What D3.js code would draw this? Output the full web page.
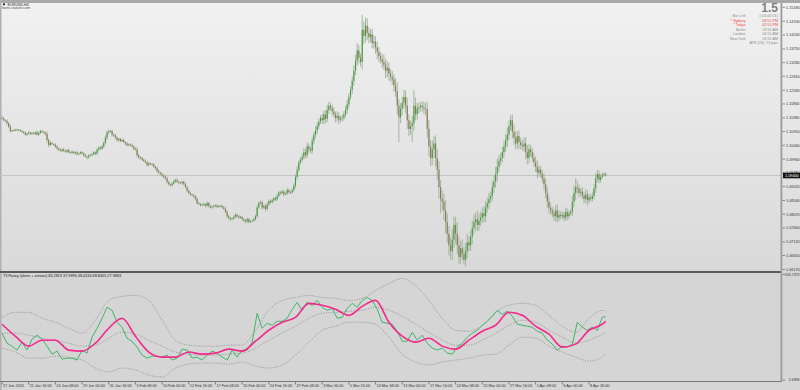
<!DOCTYPE html>
<html lang="en">
<head>
<meta charset="UTF-8">
<title>EURUSD H4</title>
<script src="https://cdn.jsdelivr.net/npm/d3@7"></script>
<style>
  body { margin: 0; background: #fff; }
  svg { display: block; font-family: "Liberation Sans", Arial, sans-serif; }
</style>
</head>
<body>
<svg id="chart" width="800" height="390"></svg>
<script>
// H4 closes, 6 bars per trading day, 17 Jan 2020 .. 10 Apr 2020
const closes = [
  1.1136,1.1130,1.1128,1.1120,1.1108,1.1092, 1.1094,1.1097,1.1095,1.1098,1.1096,1.1093,
  1.1090,1.1087,1.1080,1.1084,1.1088,1.1083, 1.1086,1.1084,1.1089,1.1080,1.1086,1.1093,
  1.1090,1.1087,1.1083,1.1062,1.1045,1.1052, 1.1048,1.1046,1.1040,1.1033,1.1028,1.1025,
  1.1030,1.1024,1.1022,1.1028,1.1020,1.1018, 1.1022,1.1017,1.1020,1.1013,1.1015,1.1020,
  1.1016,1.1010,1.1005,1.1002,1.1008,1.1010, 1.1013,1.1020,1.1015,1.1028,1.1036,1.1032,
  1.1040,1.1052,1.1070,1.1088,1.1092,1.1093, 1.1080,1.1078,1.1070,1.1062,1.1066,1.1058,
  1.1062,1.1055,1.1050,1.1044,1.1047,1.1045, 1.1040,1.1032,1.1030,1.1010,1.1002,1.1000,
  1.0995,1.0990,1.0985,1.0976,1.0982,1.0980, 1.0978,1.0970,1.0965,1.0955,1.0950,1.0946,
  1.0940,1.0935,1.0930,1.0918,1.0910,1.0906, 1.0912,1.0920,1.0925,1.0918,1.0916,1.0914,
  1.0918,1.0910,1.0900,1.0888,1.0880,1.0875, 1.0872,1.0868,1.0860,1.0845,1.0842,1.0838,
  1.0840,1.0842,1.0836,1.0845,1.0835,1.0830, 1.0833,1.0836,1.0838,1.0832,1.0835,1.0836,
  1.0830,1.0825,1.0815,1.0800,1.0794,1.0790, 1.0792,1.0798,1.0805,1.0800,1.0795,1.0798,
  1.0790,1.0785,1.0782,1.0790,1.0780,1.0783, 1.0785,1.0790,1.0800,1.0830,1.0845,1.0848,
  1.0830,1.0835,1.0825,1.0840,1.0852,1.0848, 1.0855,1.0862,1.0858,1.0870,1.0882,1.0880,
  1.0885,1.0875,1.0878,1.0890,1.0883,1.0882, 1.0890,1.0905,1.0935,1.0960,1.0985,1.0995,
  1.1005,1.1020,1.1010,1.1040,1.1030,1.1025, 1.1060,1.1080,1.1095,1.1110,1.1125,1.1138,
  1.1130,1.1150,1.1135,1.1165,1.1180,1.1172, 1.1160,1.1150,1.1138,1.1145,1.1132,1.1136,
  1.1140,1.1150,1.1165,1.1185,1.1210,1.1235, 1.1265,1.1300,1.1335,1.1370,1.1345,1.1330,
  1.1440,1.1420,1.1455,1.1430,1.1415,1.1425, 1.1395,1.1400,1.1380,1.1365,1.1350,1.1340,
  1.1330,1.1320,1.1300,1.1310,1.1290,1.1280, 1.1270,1.1250,1.1230,1.1180,1.1140,1.1170,
  1.1190,1.1210,1.1180,1.1130,1.1100,1.1110, 1.1120,1.1180,1.1150,1.1170,1.1175,1.1180,
  1.1175,1.1170,1.1168,1.1100,1.1040,1.1000, 1.1030,1.1050,1.1000,1.0960,1.0900,1.0860,
  1.0850,1.0820,1.0780,1.0740,1.0700,1.0680, 1.0720,1.0770,1.0740,1.0700,1.0660,1.0690,
  1.0670,1.0650,1.0680,1.0710,1.0700,1.0730, 1.0760,1.0780,1.0790,1.0770,1.0785,1.0795,
  1.0810,1.0800,1.0830,1.0845,1.0860,1.0870, 1.0900,1.0920,1.0945,1.0970,1.0990,1.1000,
  1.1020,1.1040,1.1060,1.1080,1.1110,1.1130, 1.1090,1.1070,1.1050,1.1075,1.1055,1.1045,
  1.1040,1.1050,1.1020,1.1000,1.1030,1.1020, 1.1000,1.0985,1.0970,1.0950,1.0960,1.0945,
  1.0930,1.0910,1.0880,1.0850,1.0830,1.0820, 1.0810,1.0800,1.0820,1.0795,1.0805,1.0800,
  1.0805,1.0795,1.0815,1.0800,1.0810,1.0815, 1.0850,1.0880,1.0900,1.0895,1.0880,1.0885,
  1.0870,1.0860,1.0875,1.0855,1.0865,1.0860, 1.0870,1.0895,1.0930,1.0945,1.0925,1.0935,
  1.0942,1.0945,1.0940
];
const firstOpen = 1.1138;
// upper / lower shadow beyond the body, in pips
const wickUp = [
  6,4,3,5,4,8, 3,2,4,3,2,3, 4,3,5,2,4,3, 3,4,2,6,3,4, 3,4,5,8,6,7, 4,3,5,4,3,6,
  3,5,4,2,4,3, 4,3,2,5,3,4, 3,4,5,3,6,4, 4,5,3,6,4,5, 6,5,8,7,5,4, 5,4,6,5,4,3,
  4,5,3,6,4,3, 5,4,6,7,5,4, 4,3,5,6,4,3, 3,5,4,6,5,3, 4,3,5,6,4,3, 5,6,4,5,3,4,
  4,5,6,5,4,3, 3,4,5,6,4,3, 4,5,3,6,5,4, 3,4,2,3,4,3, 4,5,6,5,4,3, 3,5,6,4,5,3,
  4,3,5,6,4,5, 3,5,6,8,7,5, 6,5,7,8,6,5, 5,6,4,7,6,5, 6,5,4,7,5,4, 6,8,10,12,9,8,
  10,14,12,13,10,8, 12,10,14,12,11,9, 14,12,15,18,13,10, 12,14,10,15,12,9,
  10,12,14,15,13,12, 15,18,20,25,18,14, 52,30,28,25,20,18, 20,22,18,20,16,15,
  18,25,20,22,18,15, 20,18,25,30,22,18, 20,25,22,28,20,18, 25,53,28,20,15,12,
  15,18,20,25,30,22, 30,25,28,32,30,25, 30,28,35,30,25,28, 35,30,28,40,30,25,
  30,25,28,30,22,20, 25,28,22,30,25,20, 20,25,22,18,20,15, 20,22,25,28,20,18,
  18,20,22,25,20,17, 20,25,22,18,20,15, 18,20,22,25,18,15, 15,18,20,22,15,12,
  15,18,20,22,18,15, 12,15,18,20,15,12, 12,10,15,12,10,8, 20,25,30,22,15,12,
  15,12,18,14,12,10, 12,15,18,14,12,10, 8,6,5
];
const wickDn = [
  4,5,3,6,5,4, 2,3,3,2,4,3, 3,4,2,5,3,4, 4,3,5,2,4,3, 4,3,6,9,8,5, 3,4,6,5,4,3,
  5,3,4,6,3,4, 3,4,5,3,4,2, 4,5,3,6,4,3, 5,3,6,4,5,3, 4,6,5,8,6,5, 6,5,4,6,5,4,
  3,4,6,5,4,5, 4,6,5,8,6,5, 5,4,3,6,4,5, 4,3,5,4,6,5, 3,5,4,6,5,4, 4,3,5,4,6,3,
  5,4,3,6,5,4, 4,5,6,5,4,5, 3,4,5,4,6,3, 4,3,5,4,3,4, 3,4,5,7,6,5, 4,3,4,6,5,4,
  5,4,6,5,4,3, 4,3,5,6,5,4, 7,5,8,6,5,6, 4,5,6,5,4,6, 5,6,4,5,6,5, 5,6,8,9,8,7,
  8,10,12,10,11,9, 10,12,11,13,10,8, 12,14,16,12,14,10, 14,12,15,13,16,10,
  10,12,11,13,12,10, 14,16,15,18,20,15, 25,28,22,25,20,18, 18,20,22,25,20,16,
  20,18,25,22,24,18, 18,22,20,30,85,20, 22,20,25,30,25,20, 55,25,20,18,16,15,
  15,18,22,30,35,28, 25,30,28,35,40,50, 30,35,40,30,35,28, 30,28,35,30,23,25,
  20,14,22,25,20,18, 25,20,28,22,20,18, 18,22,20,18,20,15, 18,20,22,25,18,15,
  15,20,18,22,18,15, 22,25,20,18,25,15, 15,18,25,22,18,15, 12,15,18,20,15,12,
  15,20,18,22,20,15, 12,15,18,16,12,10, 10,12,10,14,10,8, 15,20,25,18,15,12,
  12,15,14,18,12,10, 10,12,15,14,12,10, 6,5,4
];
const lastPrice = 1.09400;

const priceTicks = ["1.15180","1.14700","1.14230","1.13750","1.13280","1.12810","1.12330",
  "1.11860","1.11380","1.10910","1.10440","1.09960","1.09490","1.09020","1.08540",
  "1.08070","1.07600","1.07120","1.06650","1.06170"];
const timeTicks = ["17 Jan 2020","21 Jan 16:00","24 Jan 08:00","29 Jan 00:00","31 Jan 16:00",
  "5 Feb 08:00","10 Feb 00:00","12 Feb 16:00","17 Feb 08:00","20 Feb 00:00","24 Feb 16:00",
  "27 Feb 08:00","3 Mar 00:00","5 Mar 16:00","10 Mar 08:00","13 Mar 00:00","17 Mar 16:00",
  "20 Mar 08:00","25 Mar 00:00","27 Mar 16:00","1 Apr 08:00","6 Apr 00:00","8 Apr 16:00"];
const barsPerTick = 16;

// indicator: green line every 3 bars
const fozzy = [
  47.5,37.9,35.1,31.3,38.9,31.3,41.7,45.6,41.7,35.1,27.4,30.3,22.7,23.6,23.6,21.7,31.3,28.4,
  43.7,52.2,61.8,72.3,69.4,58.0,53.2,42.7,39.8,34.1,26.5,23.6,25.5,25.5,24.6,26.5,21.7,23.6,
  32.2,31.3,23.6,24.6,21.7,26.5,30.3,28.4,24.6,21.7,31.3,24.6,31.3,31.3,38.9,66.6,52.2,57.0,
  55.1,58.9,58.9,61.8,70.4,77.0,69.4,77.0,74.2,78.9,72.3,69.4,71.3,61.8,62.7,71.3,76.1,72.3,
  78.9,81.8,78.9,70.4,58.0,57.0,56.1,49.4,39.8,39.8,48.4,40.8,45.6,37.9,33.2,31.3,33.2,28.4,
  27.4,34.1,37.9,43.7,47.5,50.3,55.1,58.9,63.7,69.4,65.6,68.5,63.7,56.1,55.1,54.2,53.2,49.4,
  47.5,40.8,37.0,31.3,35.1,34.1,37.0,58.0,53.2,50.3,53.2,50.3,62.7,63.3
];
const fozzyStep = 3;
// T3 and bands every 8 bars, last point on the final bar
const t3 = [
  56.1,44.6,35.1,40.8,40.8,31.3,30.3,37.9,52.2,61.8,44.6,29.4,24.6,24.6,29.4,27.4,28.4,32.2,
  30.3,39.8,50.3,58.0,62.7,76.1,74.2,70.4,64.6,73.2,78.9,58.0,44.6,38.9,42.7,35.1,32.2,40.8,
  49.4,55.1,67.5,64.6,54.2,46.5,34.1,37.0,50.3,56.1,58.9
];
const bandUp = [
  62.7,67.5,67.5,61.8,58.0,52.2,47.5,59.9,78.9,82.8,83.7,78.9,59.9,40.8,36.0,35.1,35.1,36.0,
  36.0,50.3,69.4,78.9,81.8,83.7,81.8,80.9,78.9,80.9,88.5,95.2,99.9,93.2,78.9,61.8,50.3,49.4,
  55.1,67.5,74.2,76.1,74.2,64.6,54.2,48.4,61.8,69.4,68.8
];
const bandMid = [
  47.5,47.5,45.6,42.7,40.8,37.9,35.1,36.0,42.7,48.4,46.5,40.8,35.1,29.4,27.4,26.5,26.5,27.4,
  28.4,33.2,40.8,47.5,54.2,61.8,66.6,67.5,68.5,69.4,72.3,69.4,63.7,56.1,48.4,40.8,36.0,36.0,
  40.8,47.5,55.1,59.9,58.0,50.3,43.7,37.9,40.8,46.5,48.4
];
const bandLo = [
  33.2,29.4,23.6,23.6,25.5,24.6,21.7,14.1,10.3,14.1,12.2,7.4,5.5,14.1,17.9,18.9,18.9,17.9,
  19.8,16.0,14.1,17.0,26.5,38.9,50.3,54.2,58.0,58.0,56.1,43.7,27.4,19.8,17.0,19.8,21.7,23.6,
  26.5,27.4,36.0,43.7,42.7,35.1,29.4,24.6,20.8,24.6,28.0
];
const bandStep = 8;
const indMin = 2.6398, indMax = 103.7373;
const indTitle = "T3 Fozzy (alerts + arrows) 63.2813 37.9896 48.4134 68.8405 27.9863";

const sessions = [
  ["Bar Left", "[ 03:04:13 ]", "#8a8a8a"],
  ["* Sydney", "03:55 PM", "#ee3b3b"],
  ["* Tokyo", "02:55 PM", "#ee3b3b"],
  ["Berlin", "07:55 AM", "#8a8a8a"],
  ["London", "06:55 AM", "#8a8a8a"],
  ["New York", "01:55 AM", "#8a8a8a"]
];

const W = 800, H = 390;
const axisX = 782;
const mainTop = 3, mainBottom = 271, indTop = 273, indBottom = 381;
const svg = d3.select("#chart");
const fs = 3.8;

const defs = svg.append("defs");
const grad = defs.append("linearGradient").attr("id", "bgMain").attr("x1", 0).attr("x2", 0).attr("y1", 0).attr("y2", 1);
grad.append("stop").attr("offset", "0%").attr("stop-color", "#f1f1f1");
grad.append("stop").attr("offset", "100%").attr("stop-color", "#d9d9d9");
defs.append("clipPath").attr("id", "clipMain").append("rect")
  .attr("x", 0).attr("y", mainTop).attr("width", axisX).attr("height", mainBottom - mainTop);
defs.append("clipPath").attr("id", "clipInd").append("rect")
  .attr("x", 0).attr("y", indTop).attr("width", axisX).attr("height", indBottom - indTop);

// backgrounds
svg.append("rect").attr("width", W).attr("height", H).attr("fill", "#d6d6d6");
svg.append("rect").attr("x", 0).attr("y", mainTop).attr("width", W).attr("height", mainBottom - mainTop).attr("fill", "url(#bgMain)");
svg.append("rect").attr("x", 0).attr("y", indTop).attr("width", W).attr("height", indBottom - indTop).attr("fill", "#d5d5d5");
svg.append("rect").attr("x", 0).attr("y", 0).attr("width", W).attr("height", mainTop).attr("fill", "#a9a9a9");
svg.append("rect").attr("x", 0).attr("y", 0).attr("width", 1.5).attr("height", H).attr("fill", "#b0b0b0");

// scales
const x = d3.scaleLinear().domain([0, barsPerTick * (timeTicks.length - 1)]).range([2, 589]);
const y = d3.scaleLinear().domain([1.0617, 1.1518]).range([269.5, 7.3]);
const yi = d3.scaleLinear().domain([indMin, indMax]).range([380, 274.5]);

// price line
svg.append("line").attr("x1", 0).attr("x2", axisX).attr("y1", y(lastPrice)).attr("y2", y(lastPrice))
  .attr("stroke", "#c4c4c4").attr("stroke-width", 1);

// candles
const candles = closes.map((c, i) => {
  const o = i === 0 ? firstOpen : closes[i - 1];
  return { i, o, c, h: Math.max(o, c) + wickUp[i] / 10000, l: Math.min(o, c) - wickDn[i] / 10000 };
});
const gC = svg.append("g").attr("clip-path", "url(#clipMain)");
gC.selectAll("line.wick").data(candles).enter().append("line")
  .attr("class", "wick")
  .attr("x1", d => x(d.i)).attr("x2", d => x(d.i))
  .attr("y1", d => y(d.h)).attr("y2", d => y(d.l))
  .attr("stroke", "#a3b69e").attr("stroke-width", 1);
gC.selectAll("rect.body").data(candles).enter().append("rect")
  .attr("class", "body")
  .attr("x", d => x(d.i) - 0.55).attr("width", 1.1)
  .attr("y", d => y(Math.max(d.o, d.c)))
  .attr("height", d => Math.max(0.8, Math.abs(y(d.o) - y(d.c))))
  .attr("fill", d => d.c >= d.o ? "#3f9a3c" : "#8d7452");

// price axis
const gP = svg.append("g");
gP.selectAll("line").data(priceTicks).enter().append("line")
  .attr("x1", axisX + 0.5).attr("x2", axisX + 3)
  .attr("y1", d => y(+d)).attr("y2", d => y(+d))
  .attr("stroke", "#444").attr("stroke-width", 0.6);
gP.selectAll("text").data(priceTicks).enter().append("text")
  .attr("x", axisX + 4).attr("y", d => y(+d)).attr("dy", "0.35em")
  .attr("font-size", fs).attr("fill", "#333").text(d => d);

// current price box
svg.append("rect").attr("x", axisX + 1).attr("y", y(lastPrice) - 2.8).attr("width", 17).attr("height", 5.6).attr("fill", "#111");
svg.append("text").attr("x", axisX + 3).attr("y", y(lastPrice)).attr("dy", "0.35em")
  .attr("font-size", fs).attr("fill", "#fff").text(lastPrice.toFixed(5));

// indicator pane
const gI = svg.append("g").attr("clip-path", "url(#clipInd)");
const stepPts = (arr, step) => arr.map((v, k) => ({ bar: Math.min(k * step, closes.length - 1), v }));
const smooth = d3.line().x(d => x(d.bar)).y(d => yi(d.v)).curve(d3.curveMonotoneX);
[bandUp, bandMid, bandLo].forEach(b => {
  gI.append("path").attr("d", smooth(stepPts(b, bandStep)))
    .attr("fill", "none").attr("stroke", "#8e8e8e").attr("stroke-width", 0.8)
    .attr("stroke-dasharray", "1.2,1.3");
});
gI.append("path").attr("d", d3.line().x(d => x(d.bar)).y(d => yi(d.v))(stepPts(fozzy, fozzyStep)))
  .attr("fill", "none").attr("stroke", "#3fb568").attr("stroke-width", 1).attr("stroke-linejoin", "round");
gI.append("path").attr("d", smooth(stepPts(t3, bandStep)))
  .attr("fill", "none").attr("stroke", "#f5288c").attr("stroke-width", 1.6);

svg.append("text").attr("x", 3).attr("y", indTop + 4).attr("font-size", fs).attr("fill", "#222").text(indTitle);
[indMax, indMin].forEach(v => {
  svg.append("line").attr("x1", axisX + 0.5).attr("x2", axisX + 3).attr("y1", yi(v)).attr("y2", yi(v))
    .attr("stroke", "#444").attr("stroke-width", 0.6);
  svg.append("text").attr("x", 799.5).attr("y", yi(v)).attr("dy", "0.35em").attr("text-anchor", "end")
    .attr("font-size", 3.5).attr("fill", "#333").text(v.toFixed(4));
});

// frame lines
svg.append("rect").attr("x", 0).attr("y", mainBottom).attr("width", axisX).attr("height", 2).attr("fill", "#5a5a5a");
svg.append("line").attr("x1", 0).attr("x2", axisX).attr("y1", indBottom + 0.5).attr("y2", indBottom + 0.5).attr("stroke", "#777");
svg.append("rect").attr("x", axisX - 1.5).attr("y", mainTop).attr("width", 1.8).attr("height", indBottom - mainTop + 1).attr("fill", "#9b9b9b");

// time axis
const gT = svg.append("g");
gT.selectAll("line").data(timeTicks).enter().append("line")
  .attr("x1", (d, k) => x(k * barsPerTick)).attr("x2", (d, k) => x(k * barsPerTick))
  .attr("y1", indBottom + 1).attr("y2", indBottom + 3.5).attr("stroke", "#444").attr("stroke-width", 0.6);
gT.selectAll("text").data(timeTicks).enter().append("text")
  .attr("x", (d, k) => x(k * barsPerTick) + 1).attr("y", 387)
  .attr("font-size", fs).attr("fill", "#333").text(d => d);

// top-left title
svg.append("rect").attr("x", 3).attr("y", 3.4).attr("width", 2).attr("height", 1.8).attr("fill", "#222");
svg.append("text").attr("x", 7.5).attr("y", 5.8).attr("font-size", 3.7).attr("fill", "#222").text("EURUSD,H4");
svg.append("text").attr("x", 2).attr("y", 9.4).attr("font-size", 3.7).attr("fill", "#4a5060").text("forex-station.com");

// top-right info panel
svg.append("text").attr("x", 778).attr("y", 12).attr("text-anchor", "end")
  .attr("font-size", 12).attr("font-weight", "bold").attr("fill", "#7f7f7f").text("1.5");
sessions.forEach((s, k) => {
  const yy = 17.2 + k * 4.5;
  svg.append("text").attr("x", 745.5).attr("y", yy).attr("text-anchor", "end")
    .attr("font-size", 3.7).attr("fill", s[2]).text(s[0]);
  svg.append("text").attr("x", 778).attr("y", yy).attr("text-anchor", "end")
    .attr("font-size", 3.7).attr("fill", s[2]).text(s[1]);
});
svg.append("text").attr("x", 778).attr("y", 44.2).attr("text-anchor", "end")
  .attr("font-size", 3.7).attr("fill", "#8a8a8a").text("ATR (20): 73 pips");
</script>
</body>
</html>
